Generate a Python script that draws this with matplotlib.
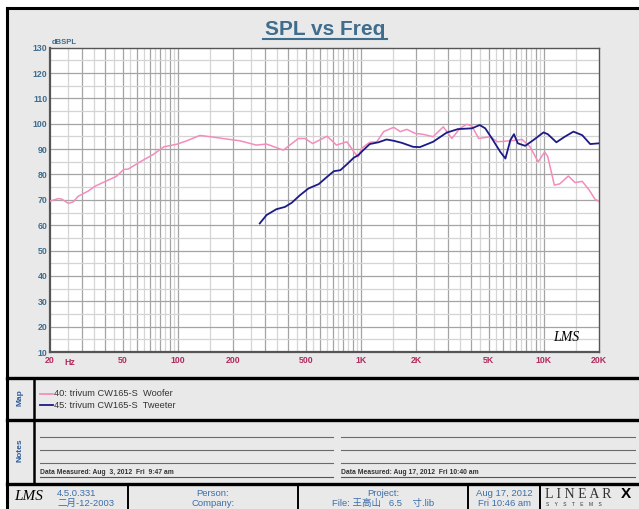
import numpy as np
import matplotlib.pyplot as plt
from matplotlib.patches import Rectangle

# data
woofer_f = [20, 22.2, 23.2, 25.2, 26.8, 28.5, 32.4, 35.3, 40.8, 46.2, 50.6, 53.4, 62.2,
            73.3, 83.7, 98.2, 111, 131.8, 150, 184, 218, 268, 305, 377, 455, 495, 545,
            654, 735, 838, 930, 967, 1008, 1118, 1222, 1330, 1510, 1640, 1780, 1980,
            2200, 2480, 2820, 3140, 3480, 3790, 4040, 4400, 5100, 5560, 6560, 7600,
            8400, 9300, 10100, 10500, 11400, 12200, 13600, 14800, 16200, 17700, 19000, 20000]
woofer_db = [69.5, 70.5, 70.3, 68.6, 69.2, 71.4, 73.5, 75.4, 77.5, 79.3, 82.0, 82.1, 85.0,
             87.9, 90.9, 91.9, 93.2, 95.4, 94.9, 94.0, 93.3, 91.6, 92.0, 89.6, 94.2, 94.2, 92.2,
             95.1, 91.6, 92.9, 88.3, 87.0, 90.3, 92.7, 92.9, 96.9, 98.6, 96.9, 97.8, 96.2,
             95.8, 94.9, 98.8, 94.2, 98.2, 99.8, 99.1, 94.2, 94.9, 92.9, 93.3, 93.8,
             90.9, 85.0, 88.9, 87.0, 75.8, 76.3, 79.4, 76.8, 77.3, 73.8, 70.3, 69.3]

tweeter_f = [280, 305, 345, 384, 418, 464, 517, 588, 654, 711, 772, 838, 913, 967, 1030,
             1118, 1247, 1380, 1510, 1670, 1930, 2100, 2480, 2940, 3390, 4040, 4460, 4780,
             5200, 5780, 6160, 6560, 6860, 7200, 7900, 8770, 9950, 10500, 11700, 13000,
             14500, 16200, 17900, 20000]
tweeter_db = [60.7, 64.0, 66.3, 67.2, 68.8, 71.8, 74.5, 76.2, 79.1, 81.3, 81.7, 84.0, 86.6,
              87.6, 89.6, 92.0, 92.7, 93.8, 93.3, 92.5, 90.9, 90.8, 92.9, 96.5, 97.9, 98.2,
              99.5, 98.2, 94.2, 88.9, 86.3, 93.6, 95.9, 92.3, 91.3, 93.6, 96.6, 95.9, 92.7,
              94.9, 96.9, 95.5, 92.0, 92.3]

x_ticks = [20, 50, 100, 200, 500, 1000, 2000, 5000, 10000, 20000]
x_labels = ['20', '50', '100', '200', '500', '1K', '2K', '5K', '10K', '20K']
y_ticks = list(range(10, 131, 10))

legend_names = ['40: trivum CW165-S  Woofer', '45: trivum CW165-S  Tweeter']
note_dates = ['Data Measured: Aug  3, 2012  Fri  9:47 am',
              'Data Measured: Aug 17, 2012  Fri 10:40 am']

PINK = '#f48cbc'
NAVY = '#1c1a86'
PANEL = '#e9e9e9'
BLUE_TXT = '#3f6d8e'
RED_TXT = '#b22a5e'
FOOT_TXT = '#3c6ea8'

W, H = 639, 509
plt.rcParams['font.family'] = ['Liberation Sans', 'Noto Sans CJK SC', 'DejaVu Sans']

fig = plt.figure(figsize=(W / 100, H / 100), dpi=100)
fig.patch.set_facecolor('white')

# background canvas in pixel coords
bg = fig.add_axes([0, 0, 1, 1])
bg.set_xlim(0, W)
bg.set_ylim(H, 0)
bg.axis('off')

bg.add_patch(Rectangle((7, 8), W - 7, H - 8, facecolor=PANEL, edgecolor='none'))
bg.plot([7, W], [8, 8], color='black', lw=2.2)
bg.plot([7, 7], [8, H], color='black', lw=2.2)
for yy in [377.5, 419.5, 484]:
    bg.plot([7, W], [yy, yy], color='black', lw=2.4)
bg.plot([34, 34], [378, 484], color='black', lw=1.8)

# title
bg.text(325, 29, 'SPL vs Freq', ha='center', va='center', fontsize=15,
        fontweight='bold', color=BLUE_TXT)
bg.plot([263, 387], [39.3, 39.3], color=BLUE_TXT, lw=1.5)

# map panel
bg.text(20, 398, 'Map', rotation=90, ha='center', va='center', fontsize=6,
        fontweight='bold', color='#2e5c9a')
for i, (name, col) in enumerate(zip(legend_names, [PINK, NAVY])):
    yy = 394 + i * 11
    bg.plot([40, 53], [yy, yy], color=col, lw=1.3)
    bg.text(54, yy, name, ha='left', va='center', fontsize=6.7, color='#333333')

# notes panel
bg.text(20, 450, 'Notes', rotation=90, ha='center', va='center', fontsize=6,
        fontweight='bold', color='#2e5c9a')
for x0, x1, txt in [(40, 333, note_dates[0]), (341, 635, note_dates[1])]:
    for yy in [437, 450, 463]:
        bg.plot([x0, x1], [yy, yy], color='#6a6a6a', lw=0.8)
    bg.plot([x0, x1], [476.8, 476.8], color='#555555', lw=0.8)
    bg.text(x0, 473, txt, ha='left', va='center', fontsize=4.9, fontweight='bold',
            color='#333333')

# footer
for xx in [128, 298, 468, 540]:
    bg.plot([xx, xx], [485, H], color='black', lw=1.4)
bg.text(29, 497, 'LMS', ha='center', va='center', fontsize=11, fontstyle='italic',
        family=['Liberation Serif'], color='black')
bg.text(57, 493, '4.5.0.331', ha='left', va='center', fontsize=6.8, color=FOOT_TXT)
bg.text(57, 503, '二月-12-2003', ha='left', va='center', fontsize=6.8, color=FOOT_TXT)
bg.text(213, 493, 'Person:', ha='center', va='center', fontsize=6.8, color=FOOT_TXT)
bg.text(213, 503, 'Company:', ha='center', va='center', fontsize=6.8, color=FOOT_TXT)
bg.text(383, 493, 'Project:', ha='center', va='center', fontsize=6.8, color=FOOT_TXT)
bg.text(383, 503, 'File: 王高山   6.5    寸.lib', ha='center', va='center', fontsize=6.8,
        color=FOOT_TXT)
bg.text(504, 493, 'Aug 17, 2012', ha='center', va='center', fontsize=6.8, color=FOOT_TXT)
bg.text(504, 503, 'Fri 10:46 am', ha='center', va='center', fontsize=6.8, color=FOOT_TXT)
bg.text(545, 494, 'L I N E A R', ha='left', va='center', fontsize=10,
        family=['Liberation Serif'], color='#333333')
bg.text(621, 494, 'X', ha='left', va='center', fontsize=11, fontweight='bold',
        color='black')
bg.text(546, 505, 'S    Y    S    T    E    M    S', ha='left', va='center',
        fontsize=3.5, color='#333333')

# main plot
ax = fig.add_axes([50 / W, 1 - 352 / H, 549 / W, 304.3 / H])
ax.set_facecolor('white')
ax.set_xscale('log')
ax.set_xlim(20, 20000)
ax.set_ylim(10, 130)

# grid: dark at each integer multiple, light at the half steps
for dec in [10, 100, 1000, 10000]:
    for m in range(1, 10):
        f = m * dec
        if 20 < f < 20000:
            ax.axvline(f, color='#a4a4a4', lw=0.9, zorder=0)
        fh = (m + 0.5) * dec
        if 20 < fh < 20000:
            ax.axvline(fh, color='#d6d6d6', lw=0.9, zorder=0)
for v in range(15, 130, 10):
    ax.axhline(v, color='#d4d4d4', lw=0.9, zorder=0)
for v in range(20, 130, 10):
    ax.axhline(v, color='#a4a4a4', lw=0.9, zorder=0)

ax.plot(woofer_f, woofer_db, color=PINK, lw=1.1, zorder=3)
ax.plot(tweeter_f, tweeter_db, color=NAVY, lw=1.3, zorder=4)

ax.set_xticks(x_ticks)
ax.set_xticklabels(x_labels)
ax.xaxis.set_minor_locator(plt.NullLocator())
ax.set_yticks(y_ticks)
ax.tick_params(length=0, pad=3)
ax.tick_params(axis='x', labelsize=6.3, labelcolor=RED_TXT)
ax.tick_params(axis='y', labelsize=6.3, labelcolor=BLUE_TXT, pad=2)
for lab in ax.get_xticklabels() + ax.get_yticklabels():
    lab.set_fontweight('bold')
for s in ax.spines.values():
    s.set_color('#555555')
    s.set_linewidth(1.0)
ax.spines['left'].set_linewidth(1.6)
ax.spines['bottom'].set_linewidth(1.6)

ax.annotate('Hz', xy=(24.0, 0), xycoords=('data', 'axes fraction'), xytext=(0, -4),
            textcoords='offset points', ha='left', va='top', fontsize=6.3,
            fontweight='bold', color=RED_TXT)
ax.text(0.004, 1.005, 'dBSPL', transform=ax.transAxes, ha='left', va='bottom',
        fontsize=5.5, fontweight='bold', color=BLUE_TXT)
ax.text(0.965, 0.025, 'LMS', transform=ax.transAxes, ha='right', va='bottom',
        fontsize=10, fontstyle='italic', family=['Liberation Serif'], color='black')

fig.savefig('out.png', dpi=100)
